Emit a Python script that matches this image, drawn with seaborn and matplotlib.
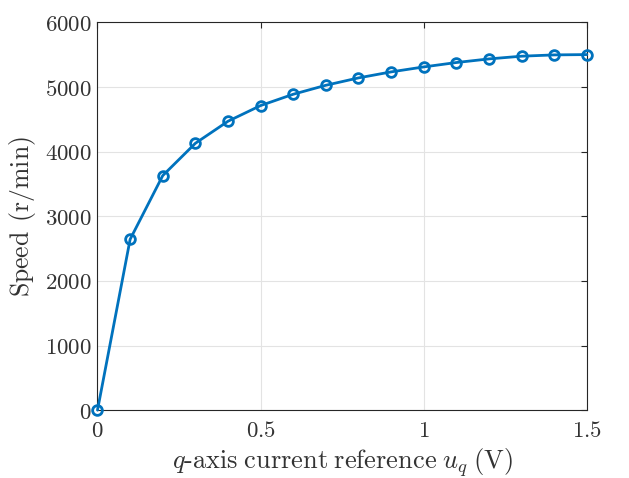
import matplotlib
matplotlib.use("Agg")
import matplotlib.pyplot as plt
import pandas as pd
import seaborn as sns
from matplotlib.ticker import FuncFormatter

# q-axis current reference (V) and measured speed (r/min)
uq = [0.0, 0.1, 0.2, 0.3, 0.4, 0.5, 0.6, 0.7, 0.8, 0.9, 1.0, 1.1, 1.2, 1.3, 1.4, 1.5]
speed = [0, 2643, 3630, 4130, 4471, 4714, 4889, 5028, 5142, 5235, 5312, 5380, 5436, 5478, 5498, 5503]
x_ticks = [0, 0.5, 1, 1.5]
y_ticks = [0, 1000, 2000, 3000, 4000, 5000, 6000]

sns.set_style("white")
plt.rcParams["mathtext.fontset"] = "cm"
plt.rcParams["font.family"] = ["DejaVu Serif"]

df = pd.DataFrame({"uq": uq, "speed": speed})

fig = plt.figure(figsize=(6.29, 4.78), dpi=100)
ax = fig.add_axes([0.155, 0.142, 0.778, 0.811])

sns.lineplot(data=df, x="uq", y="speed", ax=ax, color="#0072BD", linewidth=2,
             marker="o", markersize=7, markerfacecolor="none",
             markeredgecolor="#0072BD", markeredgewidth=2, clip_on=False, zorder=3)

ax.set_xlim(0, 1.5)
ax.set_ylim(0, 6000)
ax.set_xticks(x_ticks)
ax.set_yticks(y_ticks)
ax.xaxis.set_major_formatter(FuncFormatter(lambda v, p: r"$\mathrm{%g}$" % v))
ax.yaxis.set_major_formatter(FuncFormatter(lambda v, p: r"$\mathrm{%d}$" % v))

ax.grid(True, color="#e3e3e3", linewidth=0.8)
ax.set_axisbelow(True)
for s in ax.spines.values():
    s.set_color("#262626")
    s.set_linewidth(0.8)
ax.tick_params(direction="in", length=4, width=0.8, color="#262626",
               top=True, right=True, labelsize=16.5, labelcolor="#333333")
ax.tick_params(axis="x", pad=7)
ax.tick_params(axis="y", pad=4)

ax.set_xlabel(r"$q\mathrm{\text{-}axis\;current\;reference}\;u_q\;\mathrm{(V)}$",
              fontsize=19, color="#333333", labelpad=3)
ax.set_ylabel(r"$\mathrm{Speed\;\,(r/min)}$", fontsize=18.5, color="#333333", labelpad=5)

fig.savefig("out.png", dpi=100)
plt.close(fig)
